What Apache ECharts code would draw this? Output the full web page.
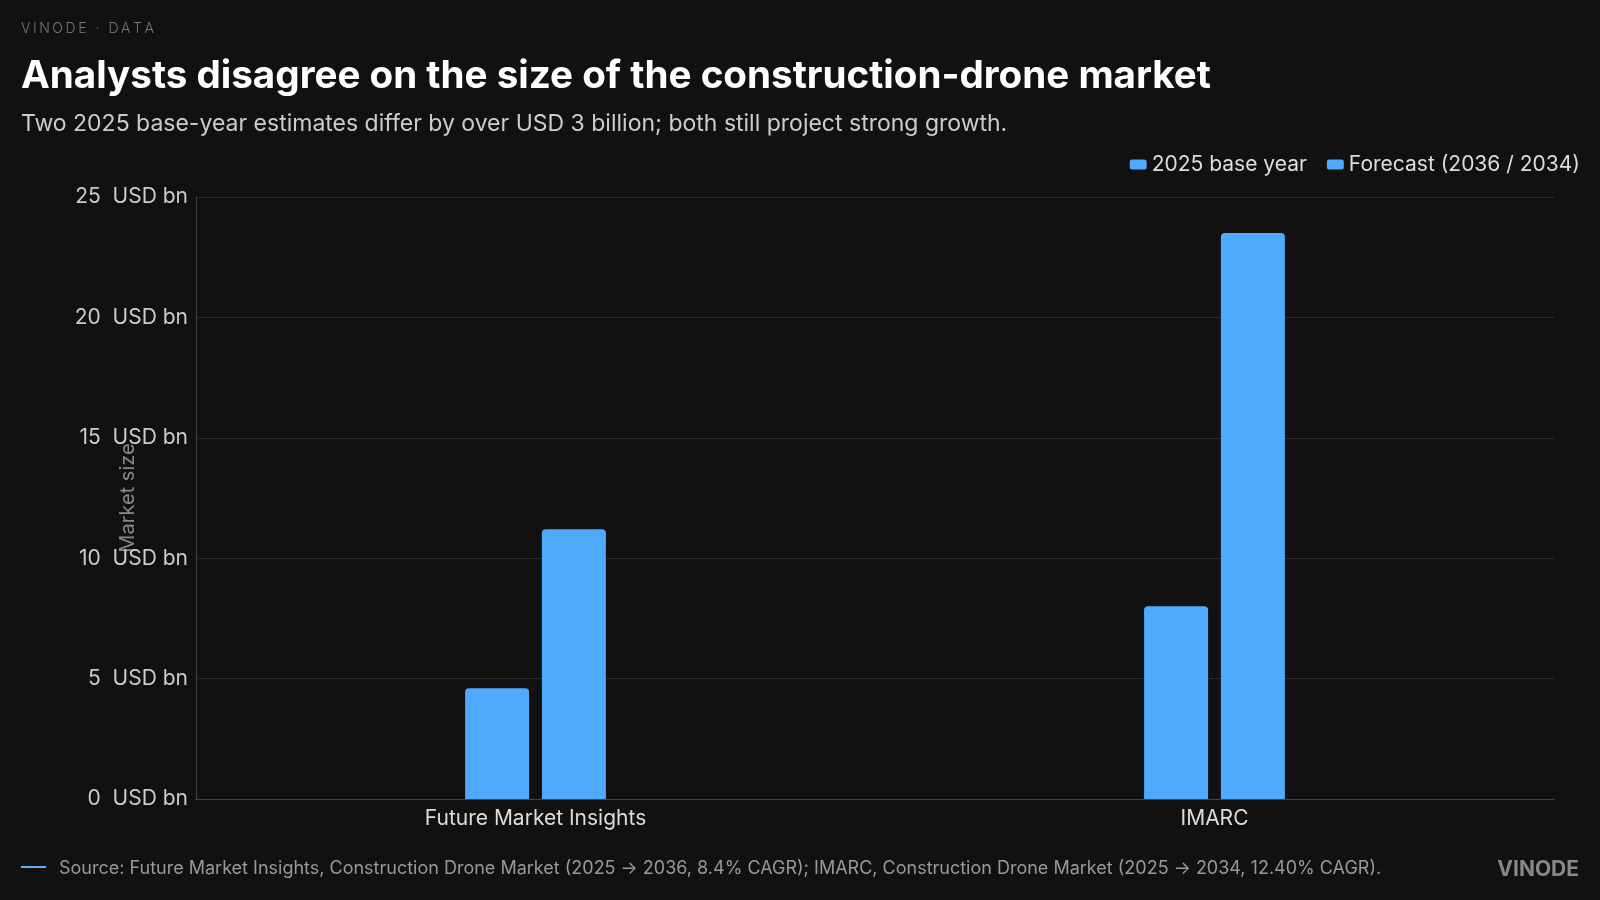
<!DOCTYPE html>
<html>
<head>
<meta charset="utf-8">
<script src="https://cdn.jsdelivr.net/npm/echarts@6/dist/echarts.min.js"></script>
<style>
html,body{margin:0;padding:0;background:#111111;}
#c{width:1600px;height:900px;}
</style>
</head>
<body>
<div id="c"></div>
<script>
const categories = ['Future Market Insights', 'IMARC'];
const baseYear = [4.6, 8.0];
const forecast = [11.2, 23.5];
const seriesNames = ['2025 base year', 'Forecast (2036 / 2034)'];
const yTicks = { min: 0, max: 25, interval: 5 };

const chart = echarts.init(document.getElementById('c'), null, { renderer: 'canvas' });
const FONT = 'Inter, "Noto Sans", sans-serif';
const BAR = '#4faaff';
const spaced = s => s.split('').join('\u2009');

chart.setOption({
  backgroundColor: '#111111',
  animation: false,
  title: [
    { text: spaced('VINODE · DATA'), left: 16, top: 17,
      textStyle: { color: '#777777', fontSize: 14, fontWeight: 300, fontFamily: FONT } },
    { text: 'Analysts disagree on the size of the construction-drone market', left: 16, top: 52,
      textStyle: { color: '#ffffff', fontSize: 38.6, fontWeight: 700, fontFamily: FONT } },
    { text: 'Two 2025 base-year estimates differ by over USD 3 billion; both still project strong growth.', left: 16, top: 108,
      textStyle: { color: '#cccccc', fontSize: 23, fontWeight: 400, fontFamily: FONT } },
    { text: 'Source: Future Market Insights, Construction Drone Market (2025 → 2036, 8.4% CAGR); IMARC, Construction Drone Market (2025 → 2034, 12.40% CAGR).',
      left: 54, top: 855,
      textStyle: { color: '#999999', fontSize: 18, fontWeight: 400, fontFamily: FONT } },
    { text: 'VINODE', right: 16, top: 854,
      textStyle: { color: '#888888', fontSize: 21, fontWeight: 700, fontFamily: FONT } }
  ],
  graphic: [
    { type: 'line', shape: { x1: 21, y1: 867, x2: 46, y2: 867 },
      style: { stroke: '#5fb0f5', lineWidth: 2 } }
  ],
  legend: {
    right: 15, top: 149,
    itemWidth: 17, itemHeight: 10, itemGap: 20,
    icon: 'roundRect',
    textStyle: { color: '#dddddd', fontSize: 21, fontFamily: FONT },
    data: seriesNames
  },
  grid: { left: 196, right: 46, top: 197, bottom: 101, containLabel: false },
  xAxis: {
    type: 'category',
    data: categories,
    axisLine: { lineStyle: { color: '#444444' } },
    axisTick: { show: false },
    axisLabel: { color: '#dddddd', fontSize: 21, fontFamily: FONT, margin: 9 }
  },
  yAxis: {
    type: 'value',
    min: yTicks.min, max: yTicks.max, interval: yTicks.interval,
    name: 'Market size',
    nameLocation: 'middle',
    nameGap: 58,
    nameRotate: 90,
    nameMoveOverlap: false,
    nameTextStyle: { color: '#888888', fontSize: 20, fontFamily: FONT },
    axisLine: { show: true, lineStyle: { color: '#444444' } },
    axisTick: { show: false },
    splitLine: { lineStyle: { color: '#2a2a2a' } },
    axisLabel: { color: '#cccccc', fontSize: 21, fontFamily: FONT, margin: 8,
      formatter: v => v + '  USD bn' }
  },
  series: [
    { name: seriesNames[0], type: 'bar', data: baseYear, barWidth: 64, barGap: '20%',
      itemStyle: { color: BAR, borderRadius: [4, 4, 0, 0] } },
    { name: seriesNames[1], type: 'bar', data: forecast, barWidth: 64,
      itemStyle: { color: BAR, borderRadius: [4, 4, 0, 0] } }
  ]
});
</script>
</body>
</html>
